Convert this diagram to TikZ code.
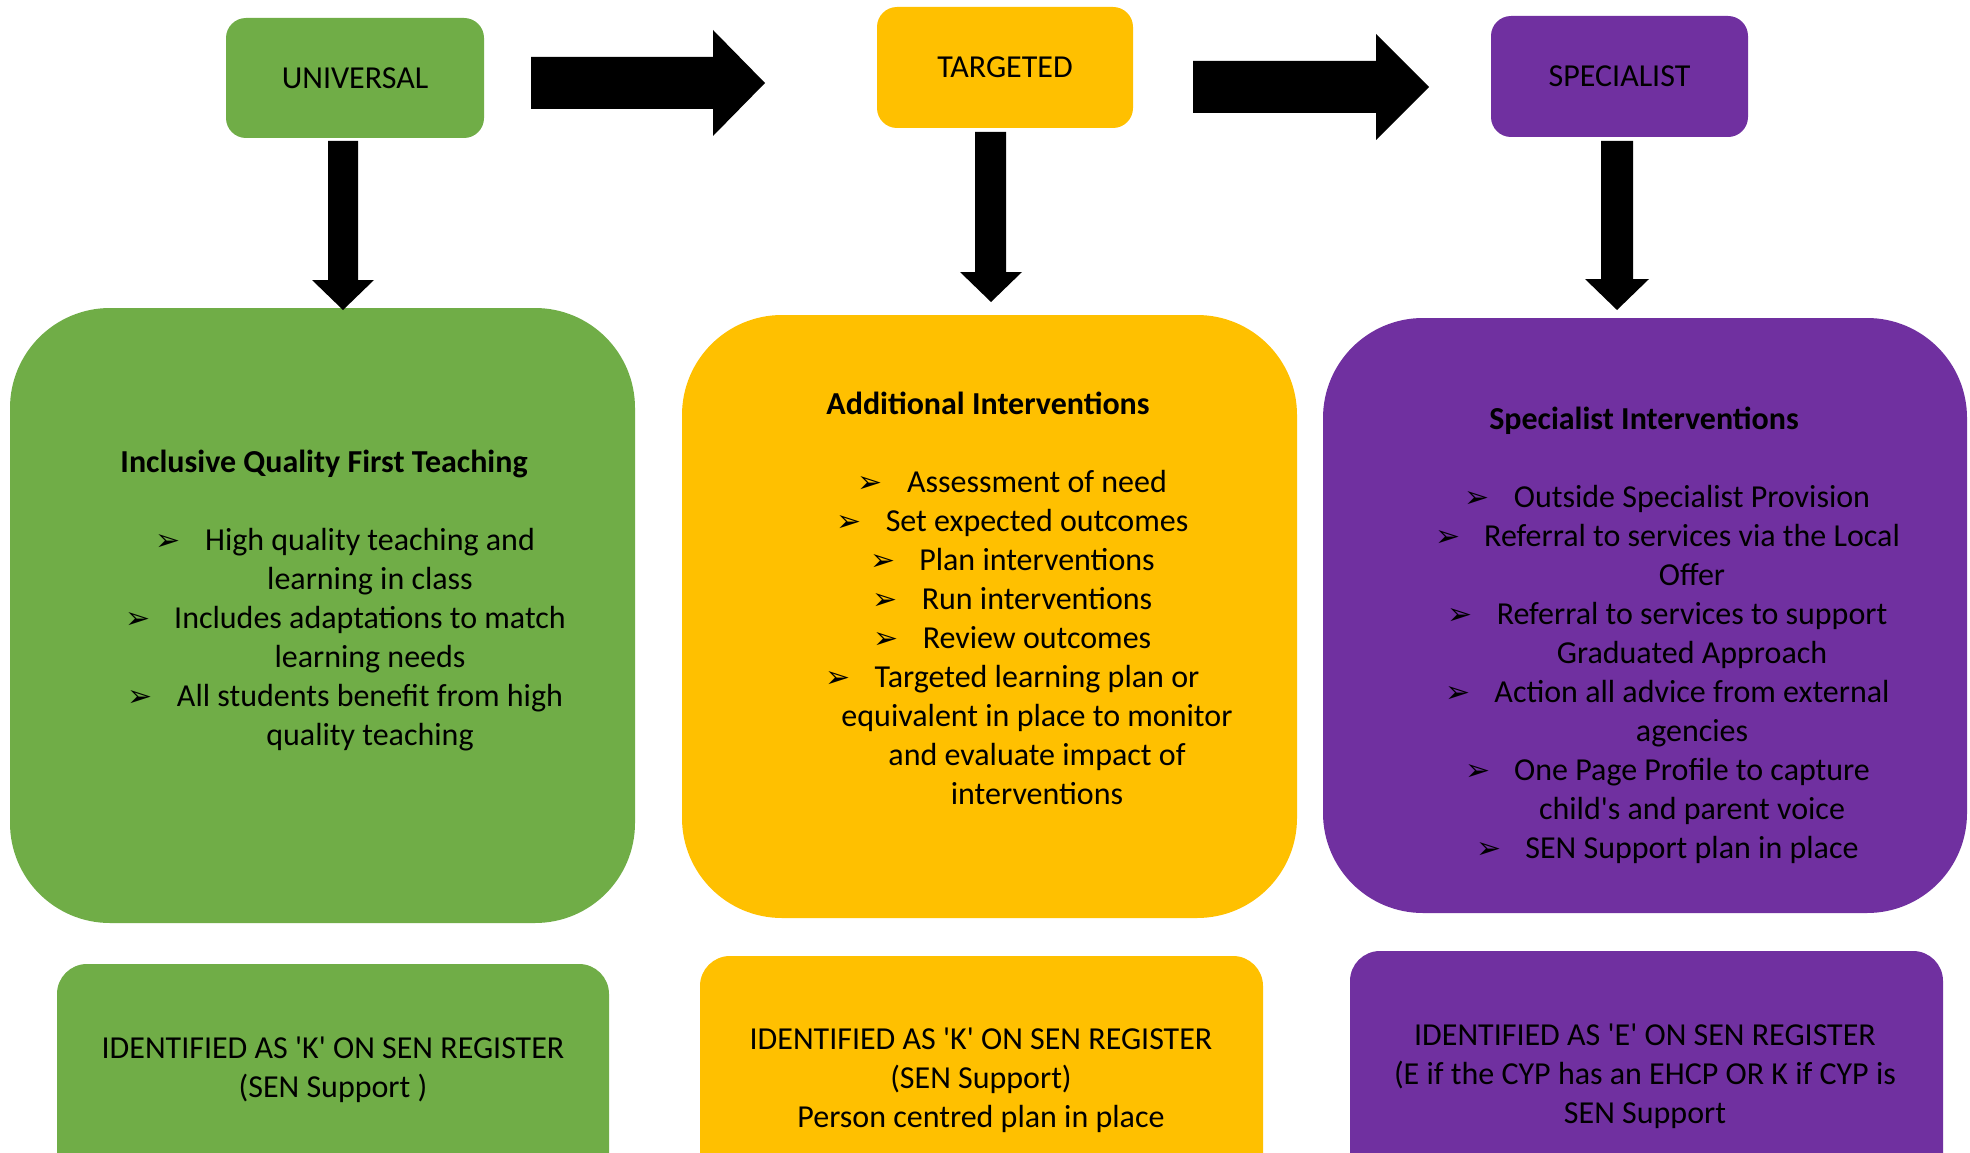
\documentclass[tikz,border=0pt]{standalone}
\usepackage{fontspec}
\newfontfamily\carfont{Carlito}
\newfontfamily\dvfont{DejaVu Sans}
\newcommand\arrbul{\llap{{\dvfont\fontsize{30}{30}\selectfont ➢}\hspace{24pt}}}
\definecolor{cgreen}{HTML}{70AD47}
\definecolor{cgold}{HTML}{FFC000}
\definecolor{cpurple}{HTML}{7030A0}
\tikzset{
  basefont/.style={font=\carfont\fontsize{32}{39}\selectfont},
  topbox/.style={rounded corners=20pt, inner sep=0pt, basefont},
  mainbox/.style={rounded corners=100pt, inner sep=0pt},
  botbox/.style={rounded corners=30pt, inner sep=0pt},
  txt/.style={basefont, inner sep=0pt, align=center, anchor=base},
  ttl/.style={font=\carfont\bfseries\fontsize{32}{39}\selectfont, inner sep=0pt, anchor=base},
  blockarrow/.style={fill=black}
}
\begin{document}
\begin{tikzpicture}[x=1pt,y=-1pt]
\clip (0,0) rectangle (1970,1153);
\fill[white] (0,0) rectangle (1970,1153);

% top boxes
\node[topbox, fill=cgreen, minimum width=258pt, minimum height=120pt] (uni) at (355,78) {UNIVERSAL};
\node[topbox, fill=cgold, minimum width=256pt, minimum height=121pt] (tar) at (1005,67.5) {TARGETED};
\node[topbox, fill=cpurple, minimum width=257pt, minimum height=121pt] (spe) at (1619.5,76.5) {SPECIALIST};

% main boxes
\node[mainbox, fill=cgreen, minimum width=625pt, minimum height=615pt] (gmain) at (322.5,615.5) {};
\node[mainbox, fill=cgold, minimum width=615pt, minimum height=603pt] (ymain) at (989.5,616.5) {};
\node[mainbox, fill=cpurple, minimum width=644pt, minimum height=595pt] (pmain) at (1645,615.5) {};

% bottom boxes
\node[botbox, fill=cgreen, minimum width=552pt, minimum height=236pt] (gbot) at (333,1082) {};
\node[botbox, fill=cgold, minimum width=563pt, minimum height=244pt] (ybot) at (981.5,1078) {};
\node[botbox, fill=cpurple, minimum width=593pt, minimum height=249pt] (pbot) at (1646.5,1075.5) {};

% main texts (anchor=base is the baseline of the last line)
\node[ttl] (gtitle) at (324,472.5) {Inclusive Quality First Teaching};
\node[txt] (glist) at (370,745.5) {\arrbul High quality teaching and\\learning in class\\\arrbul Includes adaptations to match\\learning needs\\\arrbul All students benefit from high\\quality teaching};

\node[ttl] (ytitle) at (988,414.5) {Additional Interventions};
\node[txt] (ylist) at (1037,804.5) {\arrbul Assessment of need\\\arrbul Set expected outcomes\\\arrbul Plan interventions\\\arrbul Run interventions\\\arrbul Review outcomes\\\arrbul Targeted learning plan or\\equivalent in place to monitor\\and evaluate impact of\\interventions};

\node[ttl] (ptitle) at (1644,429.5) {Specialist Interventions};
\node[txt] (plist) at (1692,858.5) {\arrbul Outside Specialist Provision\\\arrbul Referral to services via the Local\\Offer\\\arrbul Referral to services to support\\Graduated Approach\\\arrbul Action all advice from external\\agencies\\\arrbul One Page Profile to capture\\child's and parent voice\\\arrbul SEN Support plan in place};

% bottom texts
\node[txt] (gbtext) at (333,1097.5) {IDENTIFIED AS 'K' ON SEN REGISTER\\(SEN Support )};
\node[txt] (ybtext) at (981,1127.5) {IDENTIFIED AS 'K' ON SEN REGISTER\\(SEN Support)\\Person centred plan in place};
\node[txt] (pbtext) at (1645,1123.5) {IDENTIFIED AS 'E' ON SEN REGISTER\\(E if the CYP has an EHCP OR K if CYP is\\SEN Support};

% block arrows
\fill[blockarrow] (531,57) -- (713,57) -- (713,30) -- (765,83) -- (713,136) -- (713,109) -- (531,109) -- cycle;
\fill[blockarrow] (1193,61) -- (1376,61) -- (1376,34) -- (1429,87) -- (1376,140) -- (1376,113) -- (1193,113) -- cycle;
\fill[blockarrow] (328,141) -- (358,141) -- (358,280) -- (374,280) -- (343,310) -- (312,280) -- (328,280) -- cycle;
\fill[blockarrow] (975,132) -- (1006,132) -- (1006,272) -- (1022,272) -- (991,302) -- (960,272) -- (975,272) -- cycle;
\fill[blockarrow] (1601,141) -- (1633,141) -- (1633,279) -- (1649,279) -- (1617,310) -- (1585,279) -- (1601,279) -- cycle;
\end{tikzpicture}
\end{document}
